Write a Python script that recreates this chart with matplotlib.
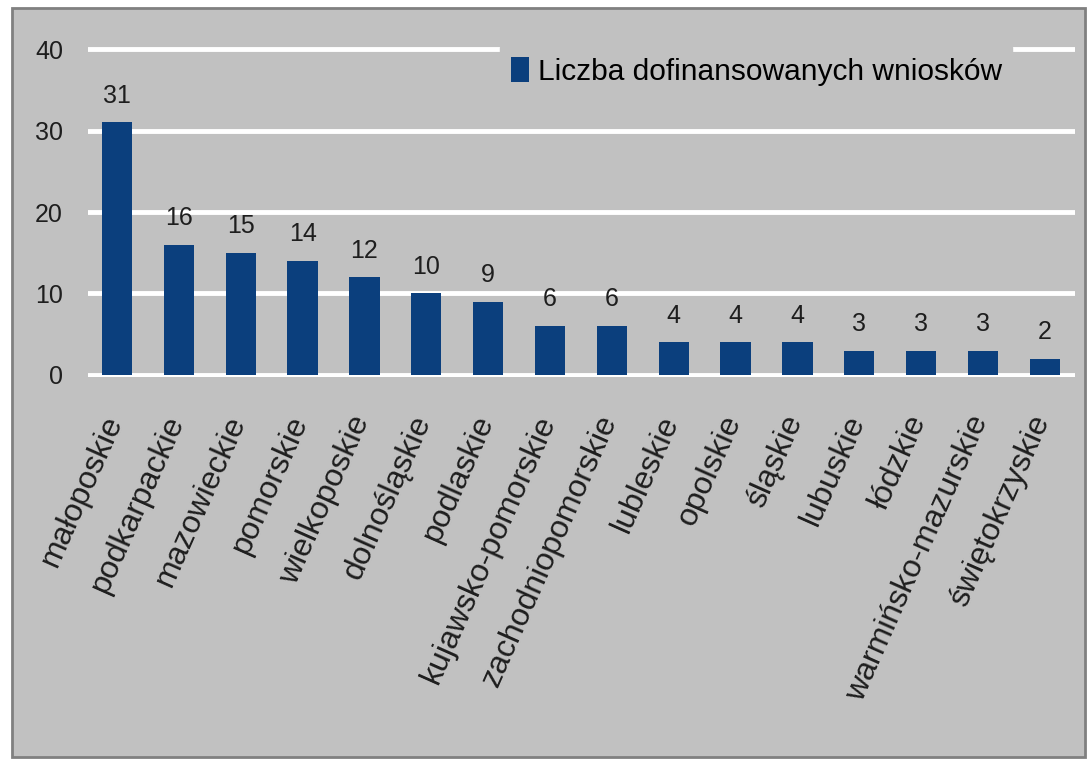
import matplotlib
matplotlib.use("Agg")
import matplotlib.pyplot as plt
from matplotlib.patches import Rectangle
import matplotlib.transforms as mtransforms
import numpy as np

# dane
regions = [
    "małoposkie", "podkarpackie", "mazowieckie", "pomorskie",
    "wielkoposkie", "dolnośląskie", "podlaskie", "kujawsko-pomorskie",
    "zachodniopomorskie", "lubleskie", "opolskie", "śląskie",
    "lubuskie", "łódzkie", "warmińsko-mazurskie", "świętokrzyskie",
]
counts = [31, 16, 15, 14, 12, 10, 9, 6, 6, 4, 4, 4, 3, 3, 3, 2]
series_label = "Liczba dofinansowanych wniosków"
yticks = [0, 10, 20, 30, 40]

BAR = "#0B3F7D"
BG = "#C1C1C1"
TXT = "#1E1E1E"

plt.rcParams["font.family"] = ["Liberation Sans", "DejaVu Sans"]

fig = plt.figure(figsize=(10.92, 7.6), dpi=100, facecolor="white")
# szary panel pod wykresem
fig.patches.append(Rectangle((12 / 1092, 3 / 760), 1073 / 1092, 749 / 760,
                             transform=fig.transFigure, facecolor=BG,
                             edgecolor="#808080", linewidth=2, zorder=-10))

ax = fig.add_axes([0.0806, 0.5034, 0.9034, 0.4353])
ax.set_facecolor(BG)
x = np.arange(len(regions))
bars = ax.bar(x, counts, width=0.49, color=BAR, zorder=3, label=series_label)

for xi, v in zip(x, counts):
    ax.text(xi, v + 1.8, str(v), ha="center", va="bottom", fontsize=18, color=TXT)

ax.set_ylim(-0.3, 40.3)
ax.set_xlim(-0.47, len(regions) - 1 + 0.48)
ax.set_yticks(yticks)
ax.set_yticklabels([str(t) for t in yticks], fontsize=18, color=TXT)
ax.yaxis.grid(True, color="white", linewidth=3.5, zorder=1)
ax.set_axisbelow(True)
ax.tick_params(axis="y", length=0, pad=18)
ax.tick_params(axis="x", length=0, pad=24)
ax.set_xticks(x)
ax.set_xticklabels(regions, rotation=66, ha="right", rotation_mode="anchor",
                   fontsize=23, color=TXT)
# przesunięcie etykiet nieco w lewo
shift = mtransforms.ScaledTranslation(-0.16, 0, fig.dpi_scale_trans)
for lbl in ax.get_xticklabels():
    lbl.set_transform(lbl.get_transform() + shift)
for s in ax.spines.values():
    s.set_visible(False)

leg = ax.legend(loc="upper right", bbox_to_anchor=(0.952, 1.045), frameon=True,
                fontsize=21.5, handlelength=0.6, handleheight=0.9, handletextpad=0.3,
                borderpad=0.35, framealpha=1)
leg.get_frame().set_facecolor(BG)
leg.get_frame().set_edgecolor(BG)
leg.get_frame().set_boxstyle("square", pad=0)

fig.savefig("out.png", dpi=100, facecolor="white")
